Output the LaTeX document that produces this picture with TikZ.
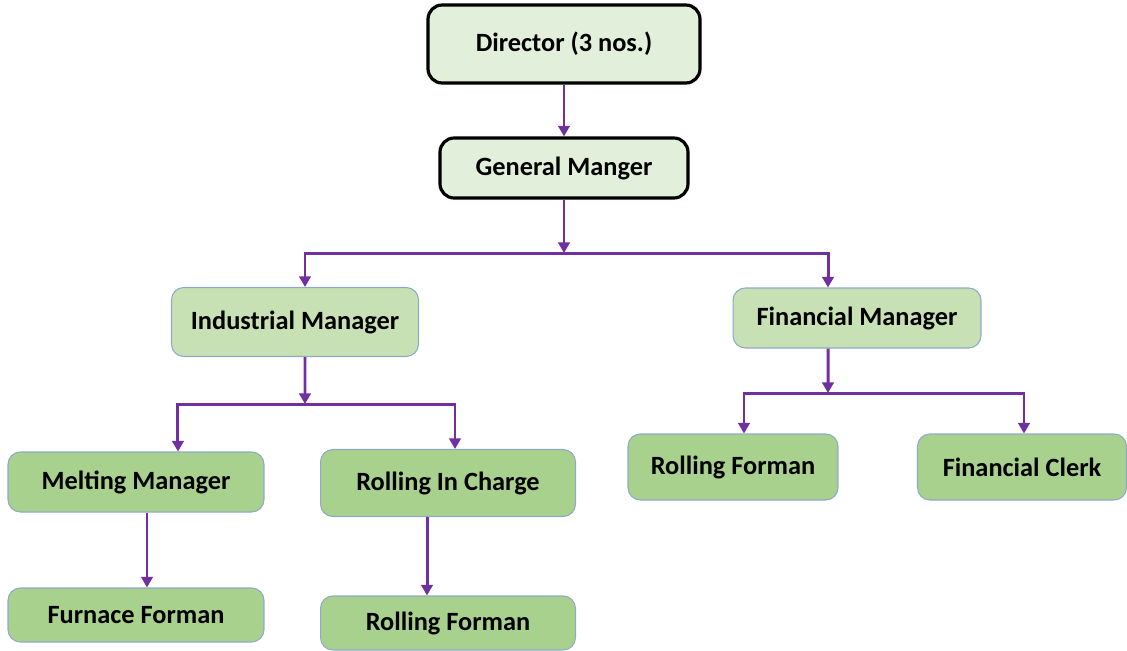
\documentclass[tikz,border=0pt]{standalone}
\usepackage{fontspec}
\setmainfont{Carlito}
\usepackage{tikz}
\usetikzlibrary{arrows, arrows.meta}
\definecolor{topfill}{HTML}{E2EFDA}
\definecolor{midfill}{HTML}{C8E1B4}
\definecolor{lowfill}{HTML}{A9D18E}
\definecolor{boxline}{HTML}{8FAAC8}
\definecolor{arrowline}{HTML}{7030A0}
\tikzset{
  topbox/.style = {draw=black, line width=1.8pt, fill=topfill, rounded corners=8pt},
  midbox/.style = {draw=boxline, line width=0.6pt, fill=midfill, rounded corners=7pt},
  lowbox/.style = {draw=boxline, line width=0.6pt, fill=lowfill, rounded corners=7pt},
  link/.style = {draw=arrowline, line width=1.7pt},
  linkarrow/.style = {link, -{Triangle[length=6pt,width=6.5pt]}}
}

\begin{document}
\begin{tikzpicture}[x=0.02cm, y=-0.02cm, font=\bfseries\fontsize{15}{18}\selectfont]
  \useasboundingbox (0,0) rectangle (1127,650);

  \node[topbox, minimum width=5.44cm, minimum height=1.56cm] (dir) at (564,44) {Director (3 nos.)};
  \node[topbox, minimum width=4.96cm, minimum height=1.2cm] (gm) at (564,168) {General Manger};

  \node[midbox, minimum width=4.94cm, minimum height=1.38cm] (im) at (295,322) {Industrial Manager};
  \node[midbox, minimum width=4.96cm, minimum height=1.2cm] (fm) at (857,318) {Financial Manager};

  \node[lowbox, minimum width=5.12cm, minimum height=1.2cm] (mm) at (136,482) {Melting Manager};
  \node[lowbox, minimum width=5.1cm, minimum height=1.34cm] (ric) at (448,483) {Rolling In Charge};
  \node[lowbox, minimum width=4.2cm, minimum height=1.32cm] (rfr) at (733,467) {Rolling Forman};
  \node[lowbox, minimum width=4.18cm, minimum height=1.32cm] (fc) at (1022,467) {Financial Clerk};

  \node[lowbox, minimum width=5.12cm, minimum height=1.08cm] (ff) at (136,615) {Furnace Forman};
  \node[lowbox, minimum width=5.1cm, minimum height=1.08cm] (rfl) at (448,623) {Rolling Forman};

  \coordinate (j1) at (564,253);
  \coordinate (j2) at (305,404);
  \coordinate (j3) at (828,393);

  \draw[linkarrow] (dir) -- (gm);
  \draw[linkarrow] (gm) -- (j1);
  \draw[linkarrow] (j1) -| ([xshift=0.2cm]im.north);
  \draw[linkarrow] (j1) -| ([xshift=-0.58cm]fm.north);

  \draw[linkarrow] ([xshift=0.2cm]im.south) -- (j2);
  \draw[linkarrow] (j2) -| ([xshift=0.84cm]mm.north);
  \draw[linkarrow] (j2) -| ([xshift=0.14cm]ric.north);
  \draw[linkarrow] ([xshift=0.22cm]mm.south) -- ([xshift=0.22cm]ff.north);
  \draw[linkarrow] ([xshift=-0.42cm]ric.south) -- ([xshift=-0.42cm]rfl.north);

  \draw[linkarrow] ([xshift=-0.58cm]fm.south) -- (j3);
  \draw[linkarrow] (j3) -| ([xshift=0.22cm]rfr.north);
  \draw[linkarrow] (j3) -| ([xshift=0.04cm]fc.north);
\end{tikzpicture}
\end{document}
